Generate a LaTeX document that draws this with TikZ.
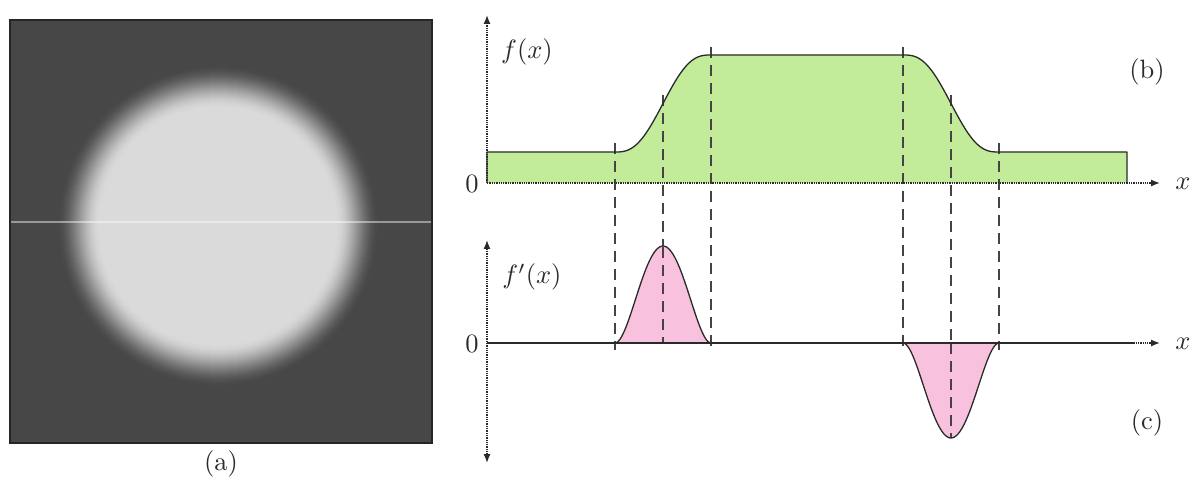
\documentclass[tikz,border=0pt]{standalone}
\usetikzlibrary{arrows.meta}
\definecolor{bg}{HTML}{474747}
\definecolor{blobA}{HTML}{DADADA}
\definecolor{fgreen}{HTML}{C2EB9A}
\definecolor{fpink}{HTML}{F8C2DE}
\definecolor{ink}{HTML}{2A2A2A}
\definecolor{dashc}{HTML}{444444}
\newcommand{\bigtxt}[1]{\scalebox{2.65}{#1}}
\tikzset{
  lbl/.style={text=ink, inner sep=0pt},
  axisline/.style={densely dotted, line width=1.3pt, draw=ink, -{Latex[length=9pt,width=7pt]}},
  axisboth/.style={densely dotted, line width=1.3pt, draw=ink, {Latex[length=9pt,width=7pt]}-{Latex[length=9pt,width=7pt]}},
  guide/.style={dash pattern=on 11pt off 7pt, line width=1.5pt, draw=dashc},
  curve/.style={line width=1.3pt, draw=ink, line join=round},
}
\begin{document}
\begin{tikzpicture}[x=1pt,y=-1pt]
\useasboundingbox (0,0) rectangle (1192,481);
% ---- panel (a)
\fill[bg] (10,20) rectangle (432,443);
\begin{scope}
  \clip (10,20) rectangle (432,443);
  \foreach \i in {0,...,44} {
    \pgfmathsetmacro\rr{162-\i}
    \pgfmathsetmacro\tt{\i/44}
    \pgfmathsetmacro\pp{100*\tt*\tt*(3-2*\tt)}
    \fill[blobA!\pp!bg] (218,226) circle[radius=\rr pt];
  }
\end{scope}
\draw[line width=2.2pt, white, opacity=0.45] (11,222) -- (431,222);
\draw[line width=1.2pt, black!85] (10,20) rectangle (432,443);
\node[lbl] (la) at (221,464) {\bigtxt{(a)}};
% ---- panel (b)
\coordinate (o1) at (487,183);
\coordinate (y1) at (487,15);
\coordinate (x1) at (1160,183);
\fill[fgreen] (487,183) -- (487,152) -- (615,152)
  -- plot[domain=0:1,samples=60] ({615+96*\x},{152-97*(6*\x^5-15*\x^4+10*\x^3)})
  -- (903,55)
  -- plot[domain=0:1,samples=60] ({903+96*\x},{55+97*(6*\x^5-15*\x^4+10*\x^3)})
  -- (1127,152) -- (1127,183) -- cycle;
% guides
\draw[guide] (615,143) -- (615,350);
\draw[guide] (663,95) -- (663,247);
\draw[guide] (711,47) -- (711,350);
\draw[guide] (903,47) -- (903,350);
\draw[guide] (951,95) -- (951,438);
\draw[guide] (999,143) -- (999,350);
\draw[curve] (487,183) -- (487,152) -- (615,152)
  -- plot[domain=0:1,samples=60] ({615+96*\x},{152-97*(6*\x^5-15*\x^4+10*\x^3)})
  -- (903,55)
  -- plot[domain=0:1,samples=60] ({903+96*\x},{55+97*(6*\x^5-15*\x^4+10*\x^3)})
  -- (1127,152) -- (1127,183);
\draw[axisline] (o1) -- (y1);
\draw[axisline] (o1) -- (x1);
\node[lbl] (fx) at (527,52) {\bigtxt{$f(x)$}};
\node[lbl] (z1) at (472,184) {\bigtxt{$0$}};
\node[lbl] (xl1) at (1183,184) {\bigtxt{$x$}};
\node[lbl] (lb) at (1147,72) {\bigtxt{(b)}};
% ---- panel (c)
\coordinate (o2) at (487,343);
\coordinate (yt) at (487,240);
\coordinate (yb) at (487,463);
\coordinate (x2) at (1160,343);
\coordinate (e2) at (1135,343);
\fill[fpink] plot[domain=0:1,samples=60] ({615+96*\x},{343-97*16*\x^2*(1-\x)^2}) -- cycle;
\fill[fpink] plot[domain=0:1,samples=60] ({903+96*\x},{343+95*16*\x^2*(1-\x)^2}) -- cycle;
\draw[guide] (663,247) -- (663,343);
\draw[guide] (951,343) -- (951,438);
\draw[axisboth] (yb) -- (yt);
\draw[axisline] (o2) -- (x2);
\draw[line width=1.6pt, ink] (o2) -- (e2);
\draw[curve] plot[domain=0:1,samples=60] ({615+96*\x},{343-97*16*\x^2*(1-\x)^2});
\draw[curve] plot[domain=0:1,samples=60] ({903+96*\x},{343+95*16*\x^2*(1-\x)^2});
\node[lbl] (fpx) at (532,277) {\bigtxt{$f'(x)$}};
\node[lbl] (z2) at (472,344) {\bigtxt{$0$}};
\node[lbl] (xl2) at (1183,344) {\bigtxt{$x$}};
\node[lbl] (lc) at (1147,423) {\bigtxt{(c)}};
\end{tikzpicture}
\end{document}
